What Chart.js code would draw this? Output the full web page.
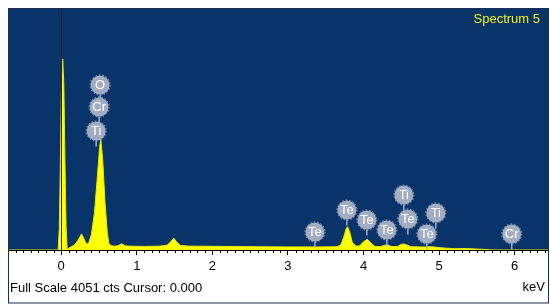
<!DOCTYPE html>
<html><head><meta charset="utf-8">
<script src="https://cdn.jsdelivr.net/npm/chart.js@4.4.1/dist/chart.umd.min.js"></script>
<style>html,body{margin:0;padding:0;background:#fff;}#wrap{width:550px;height:308px;}</style>
</head><body><div id="wrap"><canvas id="c" width="550" height="308"></canvas></div>
<script>
// ---- data ----
const energyKeV = [-0.69,-0.04,-0.025,-0.01,0.005,0.02,0.035,0.05,0.065,0.08,0.10,0.14,0.18,0.22,0.27,0.30,0.33,0.36,0.40,0.44,0.48,0.51,0.525,0.55,0.58,0.61,0.63,0.66,0.70,0.75,0.80,0.85,0.90,1.00,1.10,1.20,1.30,1.40,1.45,1.49,1.53,1.58,1.70,2.00,2.30,2.60,3.00,3.40,3.65,3.70,3.74,3.77,3.79,3.82,3.85,3.90,3.95,4.00,4.05,4.10,4.15,4.22,4.28,4.32,4.37,4.45,4.50,4.54,4.58,4.63,4.80,4.90,5.00,5.10,5.20,5.35,5.50,5.60,5.70,6.44];
const counts    = [0,0,350,1500,2800,3210,2800,1500,400,0,30,60,90,160,270,190,110,100,260,620,1250,1750,1866,1500,800,300,110,75,65,70,105,70,65,62,60,62,65,80,140,200,130,75,65,62,58,55,52,52,55,90,220,360,392,290,130,65,70,140,180,115,60,55,80,85,58,60,95,100,80,55,50,55,40,30,22,25,15,10,0,0];
const xTickValues = [0,1,2,3,4,5,6];
const xMin = -0.69, xMax = 6.44;
const fullScaleCts = 4051;
const cursorKeV = 0.000;
const spectrumName = 'Spectrum 5';
const axisUnit = 'keV';
const markerElements = ['O','Cr','Ti','Te','Te','Te','Te','Ti','Te','Ti','Te','Cr'];
const markerKeV      = [0.515,0.502,0.463,3.357,3.78,4.044,4.308,4.533,4.586,4.956,4.837,5.96];
const markerCounts   = [2773,2404,2000,303,672,504,336,924,521,622,269,269];

// ---- styles ----
const NAVY = '#08346a';
const YELLOW = '#ffff00';
const MARKER = '#a3adc2';
const FONT = '"Liberation Sans", Arial, sans-serif';

const points = energyKeV.map((e,i)=>({x:e,y:counts[i]}));

const overlay = {
  id:'overlay',
  beforeDraw(chart){
    const {ctx, chartArea:a} = chart;
    ctx.save();
    ctx.fillStyle='#fff'; ctx.fillRect(0,0,chart.width,chart.height);
    ctx.fillStyle=NAVY; ctx.fillRect(a.left,a.top,a.right-a.left,a.bottom-a.top);
    ctx.restore();
  },
  afterDatasetsDraw(chart){
    const {ctx, chartArea:a, scales:{x,y}} = chart;
    ctx.save();
    // cursor line
    const cx = Math.round(x.getPixelForValue(cursorKeV))+0.5;
    ctx.strokeStyle='#222'; ctx.lineWidth=1;
    ctx.beginPath(); ctx.moveTo(cx,a.top); ctx.lineTo(cx,a.bottom); ctx.stroke();
    // minor ticks
    ctx.strokeStyle='#000';
    for(let k=Math.ceil(xMin*10); k<=Math.floor(xMax*10); k++){
      if(k%10===0) continue;
      const px = Math.round(x.getPixelForValue(k/10))+0.5;
      ctx.beginPath(); ctx.moveTo(px,a.bottom); ctx.lineTo(px,a.bottom+3); ctx.stroke();
    }
    // element markers
    ctx.font='13px '+FONT; ctx.textAlign='center'; ctx.textBaseline='middle';
    markerElements.forEach((el,i)=>{
      const mx = x.getPixelForValue(markerKeV[i]);
      const my = y.getPixelForValue(markerCounts[i]);
      const r = 9.5;
      ctx.setLineDash([]);
      ctx.strokeStyle=MARKER; ctx.lineWidth=1.5;
      ctx.beginPath(); ctx.moveTo(mx,my+r); ctx.lineTo(mx,my+r+6); ctx.stroke();
      ctx.fillStyle=MARKER;
      ctx.beginPath(); ctx.arc(mx,my,r,0,Math.PI*2); ctx.fill();
      ctx.setLineDash([1.5,2]); ctx.lineWidth=1;
      ctx.beginPath(); ctx.arc(mx,my,r+0.5,0,Math.PI*2); ctx.stroke();
      ctx.setLineDash([]);
      ctx.fillStyle='#fff';
      ctx.fillText(el,mx,my+0.5);
    });
    ctx.restore();
  },
  afterDraw(chart){
    const {ctx, chartArea:a} = chart;
    ctx.save();
    ctx.font='13px '+FONT; ctx.textBaseline='middle';
    ctx.fillStyle='#f2f21a'; ctx.textAlign='right';
    ctx.fillText(spectrumName, a.right-8, a.top+10);
    ctx.fillStyle='#000'; ctx.textAlign='left';
    ctx.fillText('Full Scale '+fullScaleCts+' cts Cursor: '+cursorKeV.toFixed(3), a.left+1, 288);
    ctx.textAlign='right';
    ctx.fillText(axisUnit, a.right-3, 287);
    ctx.strokeStyle='#1a2d55'; ctx.lineWidth=1;
    ctx.strokeRect(a.left-0.5, a.top-0.5, a.right-a.left+1, 303-a.top+0.5);
    ctx.restore();
  }
};

new Chart(document.getElementById('c'),{
  type:'line',
  data:{datasets:[{data:points, borderColor:'#e8e800', borderWidth:1, backgroundColor:YELLOW, fill:'origin', pointRadius:0, tension:0}]},
  options:{
    responsive:false, animation:false, devicePixelRatio:1,
    layout:{padding:{left:9,right:2,top:9,bottom:5}},
    plugins:{legend:{display:false}, tooltip:{enabled:false}},
    scales:{
      x:{type:'linear', min:xMin, max:xMax,
         afterBuildTicks(s){ s.ticks = xTickValues.map(v=>({value:v})); },
         afterFit(s){ s.height = 53; },
         grid:{display:true, drawOnChartArea:false, drawTicks:true, tickLength:5, tickColor:'#000'},
         border:{display:true, color:'#000', width:1},
         ticks:{color:'#000', font:{family:FONT, size:13}, padding:4, maxRotation:0, autoSkip:false, includeBounds:false}},
      y:{display:false, min:0, max:fullScaleCts}
    }
  },
  plugins:[overlay]
});
</script></body></html>
